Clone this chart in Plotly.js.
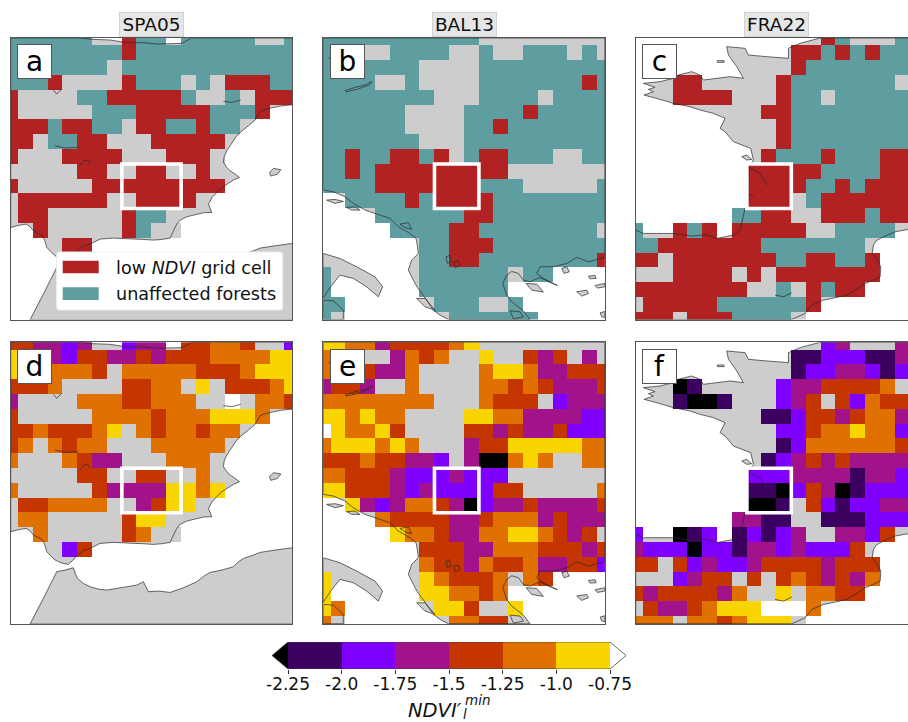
<!DOCTYPE html>
<html><head><meta charset="utf-8">
<script src="https://cdn.plot.ly/plotly-3.0.1.min.js"></script>
<style>html,body{margin:0;padding:0;background:#fff;overflow:hidden}#c{width:908px;height:722px}</style>
</head><body><div id="c"></div>
<script>
// ---- grid cells: r low NDVI, t unaffected, g no forest, . nothing
const gridA = [
"tttttt..rtt.tttttggt","ttttttttrttttttttttt","tttttttgtttttttttttt","tttrggggrtttgtgrrrtt","rggggttrrrrrtggtgrrr",
"rgggggtttrrrrrtttr..","rrrtrrttgrrttrtt....","rrgttrrgggrrrrr.....","rgggrrrrgggrrrg.....","gggggrrggrrggrg.....",
"rgggggrrrrrrrrr.....","grrrrrrggrrrr.......","grrgggggrtt.........","..rgggggrtgg........","....rr..............",
"....................","....................","....................","....................","...................."];
const gridB = [
"tttttttttttggggggggg","tttggttttggtggtttgtg","tttttttggggttttttttt","ttttggtggggtttttttrt","ttttttttgggttttgtttt",
"ttttttggggttttrttttt","ttttttggggttrttttttt","tttttttgggtttttttttt","ttrttrrtrgtrrtttggtt","ttrtrrrrrrrrrggggggg",
"ttttrrrrrrrtttgggggt","..ttttrtrrrrtttttttt","....ttttttrrtttttttt",".....ttttrrttttttttg",".......ttrrrtttttttt",
".......ttrrttttttttr","t......ttttttgtt....","t......tttttt.......","tt......tttggt......","tg.......tttttt....."];
const gridC = [
".............rtgggtt","...........rrtrtrttt","...........rtttttttt","...rr.....rtttttttgt","...rrrr...rttgtttttt",
".........rrttttttttt","..........rttttttttt","..........rttttttttt",".........rtttrtttrrr","........rrrrrttttrrr",
"........rrrrttrtrrrr","........rrrgtrrrrrrr",".......ttrrggrrrtrrr","t..rtr.rrrrrggtttt..","ttrrrrrrrttttttt....",
"rrgrrrrrrrttrrttr...","gggrrrrgrgrrrrrrr...","rrrrrrrrggtgrtrr....","grrrrrttttttr.......","rrrgrrrttttg........"];
// ---- NDVI classes: k below -2.25, 0..5 the six bands, w above -0.75, g no forest, . nothing
const gridD = [
"332212..122.33443gg1","52221332232333444455","5444443g444443334555","3334gggg3344g5g33345","2gggg44433444ggwg443",
"3ggggg444434445554..","33433345g4344344....","34g4344ggg44444.....","4ggg4322ggg444......","ggggg33gg33gg4g.....",
"4ggggg322225545.....","g334444gg2355.......","g44ggggg355.........","..4ggggg34gg........","....13..............",
"....................","....................","....................","....................","...................."];
const gridE = [
"55442333345ggggggggg","443gg2434gg5gg323g2g","4433224gggg455422333","2332gg4gggg443432223","44444444ggg4333g1222",
"554544gggg5544222211","w54453gggg3323223111","4555454ggg2335555544","333433221g2kk454gg44","4433321112111ggggggg",
"55333212111133ggggg4","..52124432k122322223","....4333322344423222",".....54432244554323g",".......3332244433323",
".......4332433422331","5......543334g43....","5......554434.......","54......553gg5......","4g.......4433......."];
const gridF = [
".............12ggg22","...........001110022","...........011221011","...k0.....12233334gg","...0kk0...123g314333",
".........00133234422","..........1134454411","..........0144444433",".........01232322222","........111222202211",
"........00k132k01111","........kk0g31011222",".......2200gg0001111","1..k01.01012gg2213..","2111k11022121113....",
"33g31211233332333...","ggg1233g3g3432324...","32333324gg5g4433....","g32234555www4.......","444g4434555g........"];
const gridLen=20;

const outcomeCodes = {r:1,t:2,g:3,'.':null};
const ndviCodes = {k:-2.375,'0':-2.125,'1':-1.875,'2':-1.625,'3':-1.375,'4':-1.125,'5':-0.875,w:-0.625,g:-0.375,'.':null};
const outcomeColors = ['#b22222','#5f9ea0','#cdcdcd'];
const bandColors = ['#000000','#3b0060','#7f00ff','#a2128a','#c43500','#e07000','#f8d500','#ffffff','#cdcdcd'];
const cbBounds = [-2.25,-2.0,-1.75,-1.5,-1.25,-1.0,-0.75];
const cbLabels = ['-2.25','-2.0','-1.75','-1.5','-1.25','-1.0','-0.75'];
const cbValues = [-2.125,-1.875,-1.625,-1.375,-1.125,-0.875];

// ---- map outlines, in map units measured from each panel's corner (844 units wide)
const iberia = {origin:[32,22], land:[
 [[32,22],[240,22],[275,26],[330,28],[380,36],[430,36],[470,40],[498,40],[545,38],[560,30],[575,22],[877,22],[877,222],[840,226],[810,232],[795,236],[780,242],[772,256],[765,268],[745,285],[720,305],[708,318],[700,330],[690,342],[680,360],[672,378],[670,395],[680,410],[690,420],[705,430],[718,440],[700,448],[680,460],[662,472],[650,485],[636,500],[625,520],[635,545],[610,546],[590,550],[560,558],[540,568],[530,580],[520,600],[510,622],[485,626],[460,628],[430,626],[400,625],[370,624],[340,622],[300,625],[285,632],[270,640],[250,646],[232,660],[218,676],[205,688],[185,684],[165,675],[150,660],[140,650],[135,632],[128,615],[112,606],[100,600],[88,586],[78,580],[55,584],[32,590]],
 [[90,867],[110,826],[130,790],[150,750],[170,710],[195,705],[220,698],[226,716],[232,730],[250,745],[270,755],[295,762],[320,765],[350,760],[385,755],[410,750],[430,740],[437,755],[445,770],[475,768],[510,772],[550,758],[590,740],[610,724],[630,712],[665,705],[700,695],[715,680],[730,670],[755,662],[780,652],[825,645],[877,638],[877,867]],
 [[808,425],[820,413],[842,417],[832,430],[812,436]]],
 lines:[[[160,178],[170,190],[185,175]],[[670,212],[695,215],[722,208]],[[165,345],[195,352],[235,350]],[[240,403],[252,390],[262,388],[272,400]]]};

const balkans = {origin:[40,114], land:[
 [[40,114],[884,114],[884,772],[860,778],[835,785],[800,772],[770,790],[730,800],[690,800],[680,820],[700,835],[742,856],[715,845],[690,832],[660,845],[640,840],[625,820],[605,814],[590,825],[578,850],[590,885],[605,905],[640,932],[660,958],[415,958],[390,945],[370,930],[350,900],[335,880],[322,862],[310,840],[295,810],[305,780],[325,760],[322,735],[318,715],[300,700],[280,688],[265,680],[240,655],[195,640],[165,630],[130,610],[105,590],[70,575],[40,570]],
 [[40,760],[90,775],[140,800],[195,830],[218,860],[205,890],[170,860],[130,835],[90,825],[62,860],[42,890],[40,895]],
 [[40,900],[70,902],[100,930],[100,958],[40,958]],
 [[50,600],[75,598],[100,604],[75,610]],[[110,622],[135,620],[150,630],[125,630]],[[270,672],[295,668],[305,688],[285,682]],
 [[755,805],[770,800],[778,815],[762,820]],[[835,828],[855,826],[858,835],[840,836]],[[855,856],[884,850],[884,860],[862,864]],[[800,875],[830,870],[835,880],[815,888]],[[648,850],[680,852],[700,876],[665,870]],[[320,895],[345,895],[375,930],[345,920]],[[600,932],[630,935],[640,950],[610,956]],[[870,938],[884,934],[884,952],[875,950]]],
 lines:[[[105,272],[135,262],[165,255],[185,245],[178,255],[140,268],[110,275],[105,272]],[[408,770],[418,766],[424,785],[412,790],[408,770]],[[432,785],[445,782],[450,795],[436,803],[432,785]],[[57,172],[62,180]]]};

const france = {origin:[47,114], land:[
 [[600,114],[940,114],[940,682],[864,688],[825,695],[790,710],[768,722],[760,735],[756,760],[772,780],[782,800],[780,830],[755,842],[735,850],[705,870],[680,885],[645,893],[610,900],[575,915],[555,940],[515,958],[47,958],[47,690],[70,700],[120,700],[160,700],[215,708],[260,704],[290,715],[340,705],[360,690],[370,650],[375,625],[386,600],[388,540],[388,500],[400,480],[392,445],[340,425],[315,395],[300,385],[315,355],[280,340],[240,330],[210,320],[160,310],[120,298],[72,285],[100,275],[85,268],[105,262],[70,250],[120,245],[160,235],[175,225],[215,215],[240,225],[250,240],[290,235],[330,230],[370,235],[350,200],[325,165],[320,140],[375,145],[385,165],[440,170],[505,175],[505,145],[540,130]],
 [[292,182],[312,182],[312,187],[292,187]],[[365,470],[380,465],[395,478],[380,480]]],
 lines:[[[390,505],[420,520],[435,545],[445,557]],[[388,582],[400,590]],[[465,885],[490,890],[515,878]]]};

// ---- the panels
const panelW = 281.6, panelH = 281.6, mapSpan = 844.4;
const panels = [
 {grid:gridA,codes:outcomeCodes,map:iberia,left:10.7,top:38,label:'a',box:[8,12,9,12]},
 {grid:gridB,codes:outcomeCodes,map:balkans,left:323.3,top:38,label:'b',box:[8,11,9,12]},
 {grid:gridC,codes:outcomeCodes,map:france,left:635.7,top:38,label:'c',box:[8,11,9,12]},
 {grid:gridD,codes:ndviCodes,map:iberia,left:10.7,top:342.3,label:'d',box:[8,12,9,12]},
 {grid:gridE,codes:ndviCodes,map:balkans,left:323.3,top:342.3,label:'e',box:[8,11,9,12]},
 {grid:gridF,codes:ndviCodes,map:france,left:635.7,top:342.3,label:'f',box:[8,11,9,12]}];
const columnTitles = [['SPA05',151.5],['BAL13',464],['FRA22',776]];

const W=908,H=722,px=x=>x/W,py=y=>1-y/H;
const steps = cols => { const n=cols.length,o=[]; cols.forEach((c,i)=>{o.push([i/n,c],[(i+1)/n,c]);}); return o; };
const cell = mapSpan/(gridLen-1);
const traces=[], shapes=[], annotations=[], layout={};

panels.forEach((p,i)=>{
  const n=i+1, xa='xaxis'+(n>1?n:''), ya='yaxis'+(n>1?n:''), xr='x'+(n>1?n:''), yr='y'+(n>1?n:'');
  const right=Math.min(p.left+panelW,W);
  const clipped=p.left+panelW>W;
  layout[xa]={domain:[px(p.left),px(right)],range:[0,mapSpan*(right-p.left)/panelW],showgrid:false,zeroline:false,showticklabels:false,ticks:'',
    showline:true,linecolor:'#555',linewidth:1,mirror:true,anchor:yr,fixedrange:true};
  layout[ya]={domain:[py(p.top+panelH),py(p.top)],range:[mapSpan,0],showgrid:false,zeroline:false,showticklabels:false,ticks:'',
    showline:true,linecolor:'#555',linewidth:1,mirror:!clipped,anchor:xr,fixedrange:true};
  const [ox,oy]=p.map.origin;
  p.map.land.forEach(poly=>{
    const path=poly.map((q,j)=>(j?'L':'M')+(q[0]-ox)+','+(q[1]-oy)).join(' ')+' Z';
    shapes.push({type:'path',path,xref:xr,yref:yr,layer:'below',fillcolor:'#cdcdcd',line:{width:0}});
  });
  const z=p.grid.map(r=>r.split('').map(ch=>p.codes[ch]));
  const isNdvi=p.codes===ndviCodes;
  traces.push({type:'heatmap',z,x0:0,dx:cell,y0:0,dy:cell,xaxis:xr,yaxis:yr,showscale:false,hoverinfo:'skip',xgap:0,ygap:0,
    colorscale:steps(isNdvi?bandColors:outcomeColors),zmin:isNdvi?-2.5:0.5,zmax:isNdvi?-0.25:3.5,zsmooth:false});
  const cx=[],cy=[];
  p.map.land.forEach(poly=>{poly.forEach(q=>{cx.push(q[0]-ox);cy.push(q[1]-oy);});cx.push(poly[0][0]-ox,null);cy.push(poly[0][1]-oy,null);});
  p.map.lines.forEach(l=>{l.forEach(q=>{cx.push(q[0]-ox);cy.push(q[1]-oy);});cx.push(null);cy.push(null);});
  traces.push({type:'scatter',mode:'lines',x:cx,y:cy,xaxis:xr,yaxis:yr,hoverinfo:'skip',showlegend:false,connectgaps:false,line:{color:'#2a2a2a',width:0.7}});
  const [c0,c1,r0,r1]=p.box;
  shapes.push({type:'rect',xref:xr,yref:yr,x0:(c0-.5)*cell,x1:(c1-.5)*cell,y0:(r0-.5)*cell,y1:(r1-.5)*cell,line:{color:'#fff',width:3.6},fillcolor:'rgba(0,0,0,0)'});
  annotations.push({xref:'paper',yref:'paper',x:px(p.left+23.7),y:py(p.top+23.8),text:p.label,showarrow:false,xanchor:'center',yanchor:'middle',
    width:33,height:33,bgcolor:'#fff',bordercolor:'#555',borderwidth:1,borderpad:0,align:'center',valign:'middle',font:{family:'DejaVu Sans',size:28,color:'#000'}});
});

columnTitles.forEach(([t,x])=>annotations.push({xref:'paper',yref:'paper',x:px(x),y:py(24.5),text:t,showarrow:false,xanchor:'center',yanchor:'middle',
  width:63,height:23,align:'center',valign:'middle',bgcolor:'#e6e6e6',bordercolor:'#d2d2d2',borderwidth:1,borderpad:0,font:{family:'DejaVu Sans',size:18.5,color:'#111'}}));

// legend of panel a
const legendRows=[['low <i>NDVI</i> grid cell','#b22222',267,268],['unaffected forests','#5f9ea0',293.6,294]];
const lx0=px(56.7),lx1=px(282.7),ly0=py(252),ly1=py(310),rx=3/W,ry=3/H;
shapes.push({type:'path',xref:'paper',yref:'paper',path:`M${lx0+rx},${ly0} L${lx1-rx},${ly0} Q${lx1},${ly0} ${lx1},${ly0-ry} L${lx1},${ly1+ry} Q${lx1},${ly1} ${lx1-rx},${ly1} L${lx0+rx},${ly1} Q${lx0},${ly1} ${lx0},${ly1+ry} L${lx0},${ly0-ry} Q${lx0},${ly0} ${lx0+rx},${ly0} Z`,fillcolor:'#fff',line:{color:'#eeeeee',width:1}});
legendRows.forEach(([t,c,ys,yt])=>{
  shapes.push({type:'rect',xref:'paper',yref:'paper',x0:px(62.7),x1:px(98.7),y0:py(ys-6.3),y1:py(ys+6.3),fillcolor:c,line:{width:0}});
  annotations.push({xref:'paper',yref:'paper',x:px(113.5),y:py(yt),text:t,showarrow:false,xanchor:'left',yanchor:'middle',font:{family:'DejaVu Sans',size:17.6,color:'#111'}});
});

// colour bar
const cbL=288,cbR=610,ext=(cbBounds[6]-cbBounds[0])/(cbR-cbL)*16;
layout.xaxis7={domain:[px(cbL-16),px(cbR+16)],range:[cbBounds[0]-ext,cbBounds[6]+ext],anchor:'y7',tickmode:'array',tickvals:cbBounds,ticktext:cbLabels,
  ticks:'outside',ticklen:4,tickcolor:'#333',tickwidth:1,ticklabelstandoff:-4,showgrid:false,zeroline:false,showline:false,fixedrange:true,tickfont:{family:'DejaVu Sans',size:17,color:'#111'}};
layout.yaxis7={domain:[py(669),py(642)],range:[0,1],anchor:'x7',showticklabels:false,ticks:'',showgrid:false,zeroline:false,showline:false,fixedrange:true};
traces.push({type:'heatmap',z:[cbValues],x:cbBounds,y:[0,1],xaxis:'x7',yaxis:'y7',showscale:false,hoverinfo:'skip',colorscale:steps(bandColors),zmin:-2.5,zmax:-0.25});
traces.push({type:'scatter',mode:'lines',x:[cbBounds[0],cbBounds[0]-ext,cbBounds[0],cbBounds[0]],y:[0,.5,1,0],fill:'toself',fillcolor:'#000',line:{width:0},xaxis:'x7',yaxis:'y7',hoverinfo:'skip',showlegend:false});
traces.push({type:'scatter',mode:'lines',x:[cbBounds[0],cbBounds[0]-ext,cbBounds[0],cbBounds[6],cbBounds[6]+ext,cbBounds[6],cbBounds[0]],y:[0,.5,1,1,.5,0,0],
  line:{color:'#444',width:0.8},xaxis:'x7',yaxis:'y7',hoverinfo:'skip',showlegend:false,cliponaxis:false});
[['<i>NDVI′</i>',435,710.5,19.5],['<i>min</i>',477,699.5,13.5],['<i>l</i>',465,714,13.5]].forEach(([t,x,y,s])=>annotations.push({xref:'paper',yref:'paper',x:px(x),y:py(y),text:t,showarrow:false,xanchor:'center',yanchor:'middle',borderpad:0,font:{family:'DejaVu Sans',size:s,color:'#111'}}));

Object.assign(layout,{width:W,height:H,margin:{l:0,r:0,t:0,b:0},paper_bgcolor:'#fff',plot_bgcolor:'#fff',showlegend:false,shapes,annotations});
Plotly.newPlot('c',traces,layout,{displayModeBar:false,staticPlot:true});
</script></body></html>
